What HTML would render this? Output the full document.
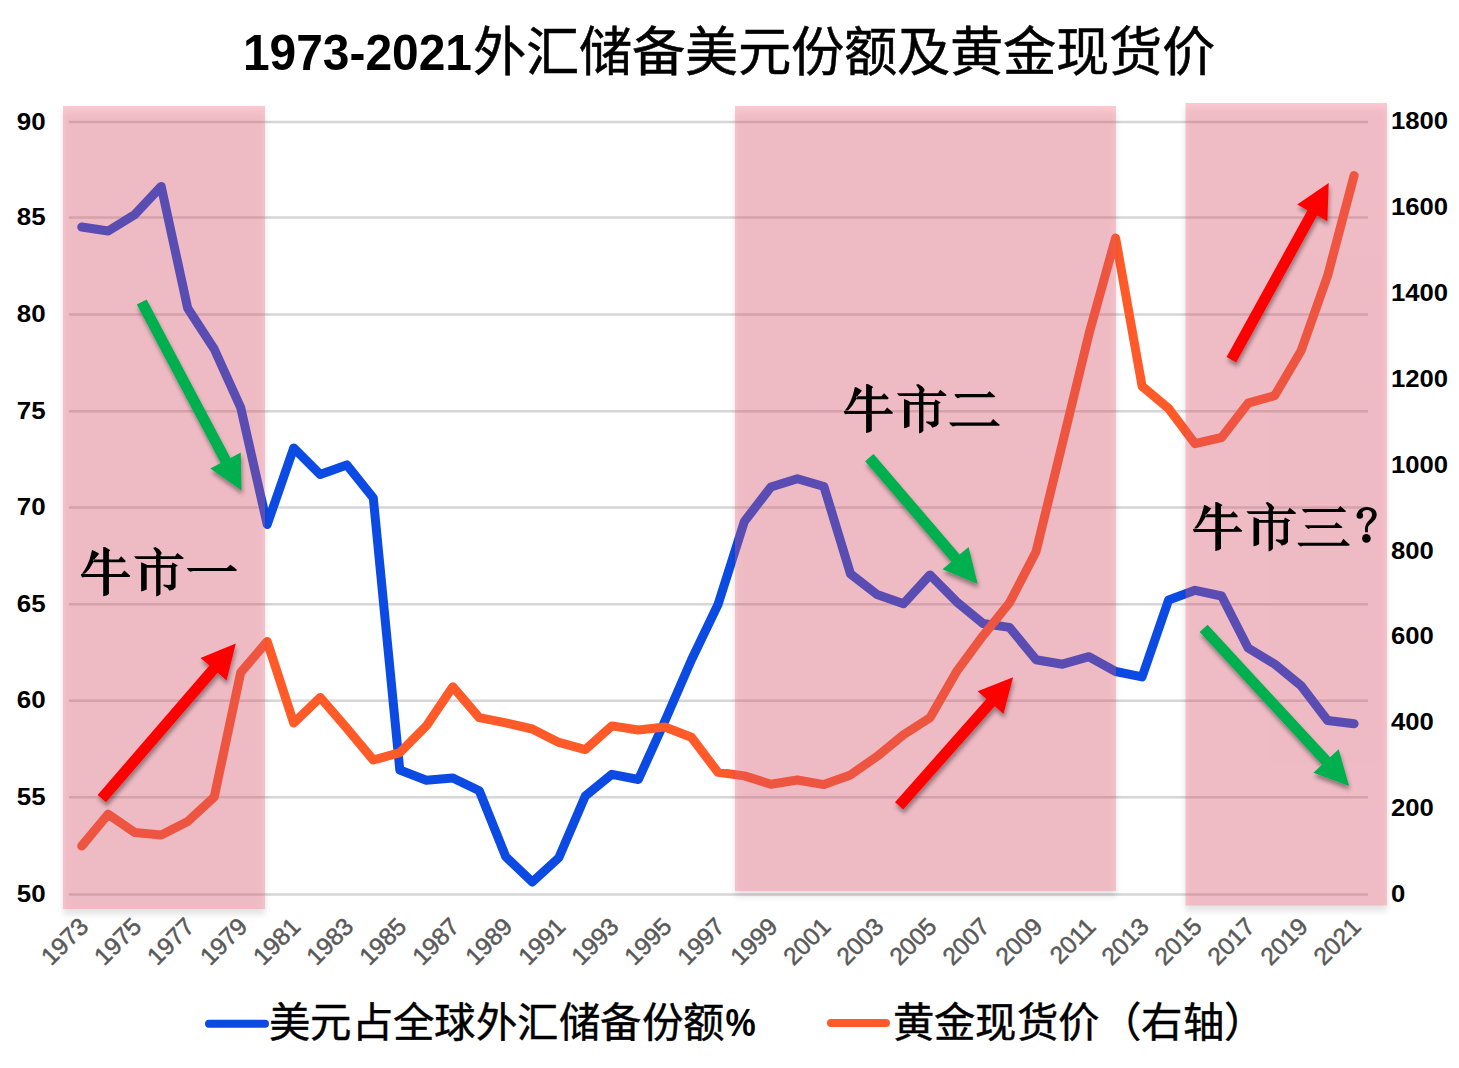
<!DOCTYPE html>
<html lang="zh-CN"><head><meta charset="utf-8"><title>1973-2021外汇储备美元份额及黄金现货价</title>
<style>
html,body{margin:0;padding:0;background:#fff;}
body{width:1459px;height:1068px;overflow:hidden;position:relative;font-family:"Liberation Sans",sans-serif;}
svg{position:absolute;left:0;top:0;}
.ax{font-family:"Liberation Sans",sans-serif;font-weight:bold;font-size:24px;fill:#000;}
.xl{font-family:"Liberation Sans",sans-serif;font-size:24.5px;fill:#595959;}
.cj{font-family:"Liberation Serif",serif;fill:#000;}
</style></head><body>
<svg width="1459" height="1068" viewBox="0 0 1459 1068">
<defs>
<filter id="rsh" x="-10%" y="-10%" width="130%" height="130%"><feGaussianBlur stdDeviation="3"/></filter>
<filter id="ash" x="-30%" y="-30%" width="160%" height="160%">
<feGaussianBlur in="SourceAlpha" stdDeviation="2"/><feOffset dx="0.8" dy="3.5" result="b"/>
<feComponentTransfer><feFuncA type="linear" slope="0.38"/></feComponentTransfer>
<feMerge><feMergeNode/><feMergeNode in="SourceGraphic"/></feMerge></filter>
<path id="g_niu" d="M27.2,7.0 L29.5,7.3 L34.3,10.2 L32.9,11.5 L32.9,53.9 L30.5,55.4 L27.2,56.2Z M17.5,19.4 L42.5,19.4 L45.2,16.3 L49.8,21.0 L49.0,22.3 L17.5,22.3Z M5.0,34.0 L45.5,34.0 L48.3,30.6 L54.2,35.8 L53.5,36.9 L8.5,37.1 L6.5,37.4 L5.2,36.0Z M16.0,10.1 L14.9,14.6 L13.5,19.7 L11.2,25.3 L8.4,30.3 L5.9,33.7 L8.4,33.7 L10.1,32.6 L13.5,28.7 L16.9,23.0 L19.1,18.5 L22.2,14.9 L23.0,13.5 L18.0,10.7Z"/>
<path id="g_shi" d="M24.2,7.9 L26.4,7.0 L30.3,9.6 L32.6,12.4 L32.3,14.6 L30.3,15.4 L28.1,14.9 L26.4,11.2Z M5.1,16.3 L46.1,16.3 L48.3,12.9 L54.8,18.0 L53.9,19.1 L8.4,19.1 L6.7,18.5Z M12.1,22.2 L16.9,24.2 L17.7,24.7 L17.7,49.4 L14.6,50.8 L12.1,51.4Z M16.9,25.0 L42.7,25.0 L43.5,22.5 L48.9,25.6 L46.6,27.0 L46.6,47.2 L44.4,49.4 L40.4,50.8 L38.8,48.3 L34.3,45.8 L34.6,44.4 L39.3,44.9 L42.1,44.4 L42.1,27.8 L16.9,27.8Z M27.0,14.6 L31.5,14.6 L31.5,53.9 L29.8,55.6 L27.2,56.5Z"/>
<path id="g_yi" d="M4.8,28.1 L44.9,28.1 L48.3,24.7 L52.2,27.5 L55.1,30.1 L53.9,30.9 L11.2,31.0 L8.4,31.7 L6.2,30.3Z"/>
<path id="g_er" d="M9.6,17.1 L42.1,17.1 L44.4,14.3 L48.0,17.4 L50.6,19.7 L49.4,20.4 L15.7,20.4 L12.9,21.4 L10.7,19.8Z M4.2,45.5 L45.5,45.5 L48.3,42.1 L52.0,45.5 L55.1,48.0 L53.9,48.8 L11.2,48.8 L7.9,49.7 L5.6,47.8Z"/>
<path id="g_san" d="M8.1,14.0 L43.9,14.0 L46.3,11.0 L49.7,14.0 L52.2,16.2 L51.0,16.9 L14.0,16.9 L11.2,17.7 L9.0,16.0Z M10.7,30.3 L40.2,30.3 L42.4,27.2 L45.8,30.0 L48.6,32.3 L47.4,33.1 L16.5,33.1 L14.3,34.1 L12.0,32.0Z M3.4,47.8 L46.9,47.8 L49.4,43.8 L53.0,47.2 L55.9,49.8 L54.7,50.8 L9.0,50.8 L6.7,51.4 L4.5,49.8Z"/>
</defs>
<rect width="1459" height="1068" fill="#fff"/>

<line x1="69" y1="122.1" x2="1368" y2="122.1" stroke="#d6d6d6" stroke-width="2.5"/>
<line x1="69" y1="217.6" x2="1368" y2="217.6" stroke="#d6d6d6" stroke-width="2.5"/>
<line x1="69" y1="314.5" x2="1368" y2="314.5" stroke="#d6d6d6" stroke-width="2.5"/>
<line x1="69" y1="411.2" x2="1368" y2="411.2" stroke="#d6d6d6" stroke-width="2.5"/>
<line x1="69" y1="507.5" x2="1368" y2="507.5" stroke="#d6d6d6" stroke-width="2.5"/>
<line x1="69" y1="604.2" x2="1368" y2="604.2" stroke="#d6d6d6" stroke-width="2.5"/>
<line x1="69" y1="700.7" x2="1368" y2="700.7" stroke="#d6d6d6" stroke-width="2.5"/>
<line x1="69" y1="797.2" x2="1368" y2="797.2" stroke="#d6d6d6" stroke-width="2.5"/>
<line x1="69" y1="894.5" x2="1368" y2="894.5" stroke="#d6d6d6" stroke-width="2.5"/>
<polyline points="81.7,227.0 108.2,231.0 134.7,214.6 161.2,186.4 187.7,308.3 214.2,349.0 240.7,407.6 267.2,524.5 293.7,448.0 320.2,474.5 346.8,464.9 373.3,498.0 399.8,770.0 426.3,780.2 452.8,778.0 479.3,790.8 505.8,856.7 532.3,882.0 558.8,857.7 585.3,796.0 611.9,774.3 638.4,779.5 664.9,721.0 691.4,660.0 717.9,604.8 744.4,521.4 770.9,487.0 797.4,478.7 823.9,486.5 850.5,573.9 877.0,594.5 903.5,603.7 930.0,574.9 956.5,601.7 983.0,623.5 1009.5,627.4 1036.0,659.7 1062.5,664.2 1089.0,656.7 1115.6,671.5 1142.1,676.9 1168.6,600.0 1195.1,590.3 1221.6,596.0 1248.1,648.0 1274.6,664.0 1301.1,685.7 1327.6,720.5 1354.1,723.7" fill="none" stroke="#0b4be3" stroke-width="9" stroke-linejoin="round" stroke-linecap="round"/>
<polyline points="81.7,846.0 108.2,814.2 134.7,832.5 161.2,834.9 187.7,821.5 214.2,797.0 240.7,672.5 267.2,641.5 293.7,723.0 320.2,697.4 346.8,728.2 373.3,760.0 399.8,752.6 426.3,725.9 452.8,686.8 479.3,717.7 505.8,722.8 532.3,729.0 558.8,742.4 585.3,749.6 611.9,725.9 638.4,730.0 664.9,727.0 691.4,737.2 717.9,772.3 744.4,775.9 770.9,784.2 797.4,780.0 823.9,784.6 850.5,774.9 877.0,756.4 903.5,734.7 930.0,717.7 956.5,671.7 983.0,635.7 1009.5,602.8 1036.0,551.8 1062.5,443.0 1089.0,333.7 1115.6,238.0 1142.1,386.2 1168.6,408.5 1195.1,443.7 1221.6,437.5 1248.1,403.2 1274.6,395.7 1301.1,350.7 1327.6,275.8 1354.1,175.5" fill="none" stroke="#ff5a28" stroke-width="9" stroke-linejoin="round" stroke-linecap="round"/>
<clipPath id="ci0"><rect x="63" y="106" width="202" height="803"/></clipPath>
<mask id="mo0" maskUnits="userSpaceOnUse" x="0" y="0" width="1459" height="1068"><rect width="1459" height="1068" fill="#fff"/><rect x="63" y="106" width="202" height="803" fill="#000"/></mask>
<g mask="url(#mo0)"><rect x="63" y="111.5" width="202" height="803" fill="#000" opacity="0.11" filter="url(#rsh)"/></g>
<g clip-path="url(#ci0)"><rect x="63" y="111.5" width="202" height="803" fill="#000" opacity="0.07" filter="url(#rsh)"/></g>
<clipPath id="ci1"><rect x="735" y="106" width="381" height="785"/></clipPath>
<mask id="mo1" maskUnits="userSpaceOnUse" x="0" y="0" width="1459" height="1068"><rect width="1459" height="1068" fill="#fff"/><rect x="735" y="106" width="381" height="785" fill="#000"/></mask>
<g mask="url(#mo1)"><rect x="735" y="111.5" width="381" height="785" fill="#000" opacity="0.11" filter="url(#rsh)"/></g>
<g clip-path="url(#ci1)"><rect x="735" y="111.5" width="381" height="785" fill="#000" opacity="0.07" filter="url(#rsh)"/></g>
<clipPath id="ci2"><rect x="1185.5" y="103" width="201.5" height="802.6"/></clipPath>
<mask id="mo2" maskUnits="userSpaceOnUse" x="0" y="0" width="1459" height="1068"><rect width="1459" height="1068" fill="#fff"/><rect x="1185.5" y="103" width="201.5" height="802.6" fill="#000"/></mask>
<g mask="url(#mo2)"><rect x="1185.5" y="108.5" width="201.5" height="802.6" fill="#000" opacity="0.11" filter="url(#rsh)"/></g>
<g clip-path="url(#ci2)"><rect x="1185.5" y="108.5" width="201.5" height="802.6" fill="#000" opacity="0.07" filter="url(#rsh)"/></g>
<rect x="63" y="106" width="202" height="803" fill="#f35a74" opacity="0.34"/>
<rect x="735" y="106" width="381" height="785" fill="#f35a74" opacity="0.34"/>
<rect x="1185.5" y="103" width="201.5" height="802.6" fill="#f35a74" opacity="0.34"/>
<path d="M136.8,304.6 L220.7,463.0 L210.3,468.5 L241.5,490.5 L240.8,452.4 L230.5,457.9 L146.6,299.4Z" fill="#00b050" filter="url(#ash)"/>
<path d="M865.1,461.2 L951.4,561.7 L942.5,569.3 L977.7,583.9 L968.6,546.9 L959.7,554.5 L873.5,454.0Z" fill="#00b050" filter="url(#ash)"/>
<path d="M1199.6,632.1 L1322.0,764.7 L1313.4,772.7 L1349.1,786.0 L1338.7,749.3 L1330.1,757.3 L1207.6,624.7Z" fill="#00b050" filter="url(#ash)"/>
<path d="M106.0,802.2 L217.7,672.8 L226.6,680.5 L235.8,643.5 L200.5,658.0 L209.4,665.6 L97.6,795.0Z" fill="#ff0000" filter="url(#ash)"/>
<path d="M903.2,809.4 L994.7,706.3 L1003.5,714.1 L1013.1,677.2 L977.6,691.2 L986.4,699.0 L895.0,802.2Z" fill="#ff0000" filter="url(#ash)"/>
<path d="M1236.2,362.4 L1317.1,215.5 L1327.4,221.2 L1328.7,183.1 L1297.2,204.6 L1307.5,210.2 L1226.6,357.0Z" fill="#ff0000" filter="url(#ash)"/>
<text class="ax" transform="translate(45.6,129.5) scale(1.08,1)" text-anchor="end">90</text>
<text class="ax" transform="translate(45.6,225.0) scale(1.08,1)" text-anchor="end">85</text>
<text class="ax" transform="translate(45.6,321.9) scale(1.08,1)" text-anchor="end">80</text>
<text class="ax" transform="translate(45.6,418.6) scale(1.08,1)" text-anchor="end">75</text>
<text class="ax" transform="translate(45.6,514.9) scale(1.08,1)" text-anchor="end">70</text>
<text class="ax" transform="translate(45.6,611.6) scale(1.08,1)" text-anchor="end">65</text>
<text class="ax" transform="translate(45.6,708.1) scale(1.08,1)" text-anchor="end">60</text>
<text class="ax" transform="translate(45.6,804.6) scale(1.08,1)" text-anchor="end">55</text>
<text class="ax" transform="translate(45.6,901.9) scale(1.08,1)" text-anchor="end">50</text>
<text class="ax" transform="translate(1391,129.4) scale(1.07,1)">1800</text>
<text class="ax" transform="translate(1391,215.2) scale(1.07,1)">1600</text>
<text class="ax" transform="translate(1391,301.0) scale(1.07,1)">1400</text>
<text class="ax" transform="translate(1391,386.9) scale(1.07,1)">1200</text>
<text class="ax" transform="translate(1391,472.7) scale(1.07,1)">1000</text>
<text class="ax" transform="translate(1391,558.5) scale(1.07,1)">800</text>
<text class="ax" transform="translate(1391,644.3) scale(1.07,1)">600</text>
<text class="ax" transform="translate(1391,730.2) scale(1.07,1)">400</text>
<text class="ax" transform="translate(1391,816.0) scale(1.07,1)">200</text>
<text class="ax" transform="translate(1391,901.8) scale(1.07,1)">0</text>
<text class="xl" transform="translate(89.9,928) rotate(-45)" text-anchor="end" stroke="#595959" stroke-width="0.5">1973</text>
<text class="xl" transform="translate(142.9,928) rotate(-45)" text-anchor="end" stroke="#595959" stroke-width="0.5">1975</text>
<text class="xl" transform="translate(195.9,928) rotate(-45)" text-anchor="end" stroke="#595959" stroke-width="0.5">1977</text>
<text class="xl" transform="translate(248.9,928) rotate(-45)" text-anchor="end" stroke="#595959" stroke-width="0.5">1979</text>
<text class="xl" transform="translate(301.9,928) rotate(-45)" text-anchor="end" stroke="#595959" stroke-width="0.5">1981</text>
<text class="xl" transform="translate(355.0,928) rotate(-45)" text-anchor="end" stroke="#595959" stroke-width="0.5">1983</text>
<text class="xl" transform="translate(408.0,928) rotate(-45)" text-anchor="end" stroke="#595959" stroke-width="0.5">1985</text>
<text class="xl" transform="translate(461.0,928) rotate(-45)" text-anchor="end" stroke="#595959" stroke-width="0.5">1987</text>
<text class="xl" transform="translate(514.0,928) rotate(-45)" text-anchor="end" stroke="#595959" stroke-width="0.5">1989</text>
<text class="xl" transform="translate(567.0,928) rotate(-45)" text-anchor="end" stroke="#595959" stroke-width="0.5">1991</text>
<text class="xl" transform="translate(620.1,928) rotate(-45)" text-anchor="end" stroke="#595959" stroke-width="0.5">1993</text>
<text class="xl" transform="translate(673.1,928) rotate(-45)" text-anchor="end" stroke="#595959" stroke-width="0.5">1995</text>
<text class="xl" transform="translate(726.1,928) rotate(-45)" text-anchor="end" stroke="#595959" stroke-width="0.5">1997</text>
<text class="xl" transform="translate(779.1,928) rotate(-45)" text-anchor="end" stroke="#595959" stroke-width="0.5">1999</text>
<text class="xl" transform="translate(832.1,928) rotate(-45)" text-anchor="end" stroke="#595959" stroke-width="0.5">2001</text>
<text class="xl" transform="translate(885.2,928) rotate(-45)" text-anchor="end" stroke="#595959" stroke-width="0.5">2003</text>
<text class="xl" transform="translate(938.2,928) rotate(-45)" text-anchor="end" stroke="#595959" stroke-width="0.5">2005</text>
<text class="xl" transform="translate(991.2,928) rotate(-45)" text-anchor="end" stroke="#595959" stroke-width="0.5">2007</text>
<text class="xl" transform="translate(1044.2,928) rotate(-45)" text-anchor="end" stroke="#595959" stroke-width="0.5">2009</text>
<text class="xl" transform="translate(1097.2,928) rotate(-45)" text-anchor="end" stroke="#595959" stroke-width="0.5">2011</text>
<text class="xl" transform="translate(1150.3,928) rotate(-45)" text-anchor="end" stroke="#595959" stroke-width="0.5">2013</text>
<text class="xl" transform="translate(1203.3,928) rotate(-45)" text-anchor="end" stroke="#595959" stroke-width="0.5">2015</text>
<text class="xl" transform="translate(1256.3,928) rotate(-45)" text-anchor="end" stroke="#595959" stroke-width="0.5">2017</text>
<text class="xl" transform="translate(1309.3,928) rotate(-45)" text-anchor="end" stroke="#595959" stroke-width="0.5">2019</text>
<text class="xl" transform="translate(1362.3,928) rotate(-45)" text-anchor="end" stroke="#595959" stroke-width="0.5">2021</text>
<text transform="translate(242.9,70.2) scale(0.968,1)" style="font-family:'Liberation Sans',sans-serif;font-weight:bold;font-size:49.5px" fill="#000">1973-2021</text>
<text x="473" y="71.2" style="font-family:'Liberation Sans',sans-serif;font-size:53.3px" fill="#000" stroke="#000" stroke-width="0.5">外汇储备美元份额及黄金现货价</text>
<use href="#g_niu" x="76" y="540" fill="#000"/>
<use href="#g_shi" x="129" y="540" fill="#000"/>
<use href="#g_yi" x="182" y="540" fill="#000"/>
<use href="#g_niu" x="838.9" y="376.9" fill="#000"/>
<use href="#g_shi" x="891.9" y="376.9" fill="#000"/>
<use href="#g_er" x="944.9" y="376.9" fill="#000"/>
<use href="#g_niu" x="1188.1" y="494.9" fill="#000"/>
<use href="#g_shi" x="1241.4" y="494.9" fill="#000"/>
<use href="#g_san" x="1294" y="495" fill="#000"/>
<g transform="translate(1346,500)" fill="#000"><circle cx="13.8" cy="15.4" r="3.25"/><path d="M11.0,14.5 C11.5,10.0 16.0,7.0 20.6,7.0 C26.5,7.0 30.7,10.0 30.7,14.5 C30.7,19.5 26.0,22.5 23.0,25.5 C21.5,27.0 21.8,29.5 22.0,32.3 L19.2,32.3 C18.8,29.0 19.0,26.0 20.5,23.5 C22.5,20.0 26.0,18.5 26.0,14.5 C26.0,11.5 23.5,10.1 20.6,10.1 C18.5,10.1 17.0,11.0 16.6,12.5 Z"/><circle cx="20.4" cy="38.4" r="4.3"/></g>
<line x1="209" y1="1023.8" x2="265" y2="1023.8" stroke="#0b4be3" stroke-width="8" stroke-linecap="round"/>
<text x="268.7" y="1037.2" style="font-family:'Liberation Sans',sans-serif;font-size:41.4px;letter-spacing:0.45px" fill="#000" stroke="#000" stroke-width="0.45">美元占全球外汇储备份额</text>
<text transform="translate(725.4,1035.8) scale(1.0,1.12)" style="font-family:'Liberation Sans',sans-serif;font-weight:bold;font-size:34px" fill="#000">%</text>
<line x1="831" y1="1023.1" x2="886" y2="1023.1" stroke="#ff5a28" stroke-width="8" stroke-linecap="round"/>
<text x="892.5" y="1037.2" style="font-family:'Liberation Sans',sans-serif;font-size:41.4px;letter-spacing:0.45px" fill="#000" stroke="#000" stroke-width="0.45">黄金现货价（右轴）</text>
</svg></body></html>
